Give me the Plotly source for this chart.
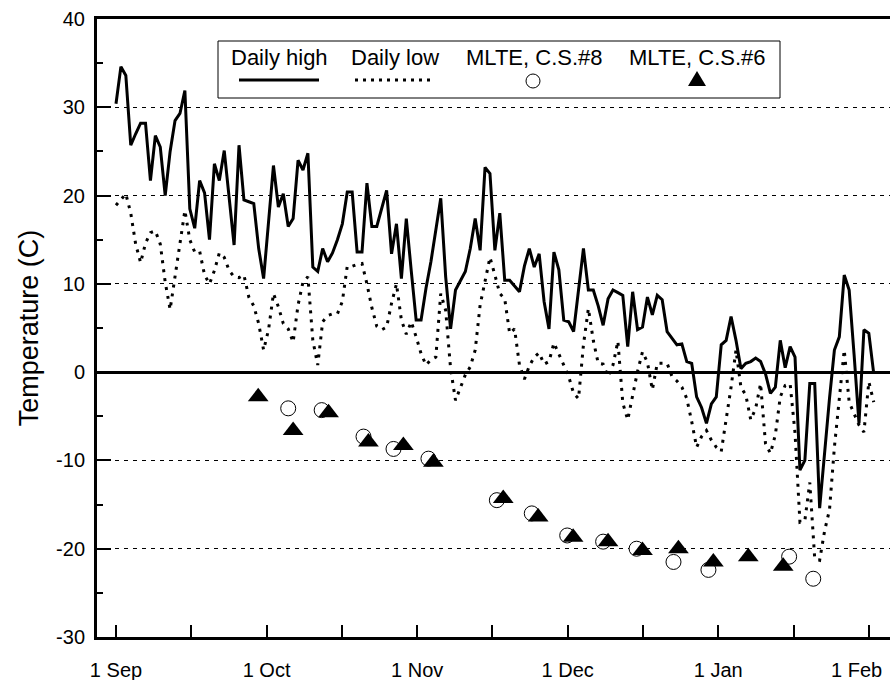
import numpy as np
import plotly.graph_objects as go

# ---------------- data ----------------
# daily values, one per day starting 1 Sep (day 0)
daily_high = [30.4, 34.6, 33.6, 25.7, 27.0, 28.2, 28.2, 21.7, 26.8, 25.5,
              20.0, 25.0, 28.5, 29.3, 31.9, 18.5, 16.3, 21.7, 20.3, 15.0,
              23.6, 21.7, 25.1, 20.0, 14.4, 25.7, 19.5, 19.3, 19.1, 14.0,
              10.6, 17.0, 23.4, 18.7, 20.2, 16.5, 17.4, 24.0, 22.9, 24.8,
              11.9, 11.4, 14.0, 12.5, 13.5, 15.0, 16.8, 20.4, 20.4, 13.6,
              13.6, 21.4, 16.5, 16.5, 18.5, 20.6, 13.4, 16.8, 10.6, 17.4,
              11.5, 5.9, 5.9, 9.5, 12.5, 16.0, 19.7, 10.8, 4.9, 9.3,
              10.3, 11.4, 14.0, 17.4, 13.8, 23.2, 22.5, 13.8, 18.0, 10.4,
              10.4, 9.8, 9.1, 12.0, 14.0, 11.9, 13.4, 8.0, 4.9, 13.6,
              11.6, 5.9, 5.7, 4.6, 9.0, 14.0, 9.3, 9.3, 7.5, 5.3,
              8.3, 9.3, 9.0, 8.7, 2.9, 9.1, 4.8, 5.1, 8.5, 6.5,
              8.7, 8.2, 4.6, 3.8, 3.1, 3.2, 1.2, 1.0, -2.8, -4.0,
              -5.8, -3.6, -2.8, 3.1, 3.6, 6.3, 3.6, 0.4, 1.0, 1.2,
              1.6, 1.2, -0.2, -2.4, -1.7, 3.6, 0.5, 2.9, 1.7, -11.1,
              -10.0, -1.3, -1.3, -15.4, -9.0, -3.0, 2.5, 4.0, 11.0, 9.3,
              2.0, -5.8, 4.8, 4.4, -0.2]

daily_low = [18.9, 19.5, 20.2, 18.0, 14.5, 12.4, 14.6, 15.8, 16.0, 14.5,
             10.2, 7.1, 11.0, 15.0, 18.3, 15.0, 13.6, 13.7, 11.0, 10.0,
             11.5, 13.5, 13.0, 11.5, 10.8, 10.7, 11.0, 8.5, 7.5, 5.5,
             2.5, 4.8, 8.9, 7.4, 5.5, 4.9, 3.4, 7.6, 10.2, 10.8,
             3.6, 0.8, 5.7, 6.4, 6.6, 6.6, 8.0, 12.0, 12.0, 12.2,
             12.3, 10.0, 7.3, 5.2, 4.8, 5.1, 7.8, 10.0, 5.9, 4.3,
             5.7, 4.0, 2.1, 0.8, 1.4, 1.7, 8.9, 7.0, 0.4, -3.2,
             -1.7, -0.3, 0.6, 2.5, 7.6, 10.2, 13.0, 11.0, 8.9, 8.3,
             4.4, 4.9, 0.8, -0.8, 0.7, 1.7, 2.2, 0.9, 1.2, 3.3,
             2.1, 0.8, -0.5, -2.4, -3.0, 3.1, 7.2, 3.6, 1.0, 0.9,
             -0.5, 0.8, 3.5, -3.5, -5.4, -2.7, 0.1, 2.3, 1.1, -2.0,
             1.0, 1.0, 1.0, -0.5, -1.0, -1.7, -3.0, -5.6, -8.5, -7.3,
             -6.6, -7.7, -8.5, -9.0, -5.6, -1.7, 2.5, -1.7, -2.6, -5.4,
             -4.1, -1.3, -8.1, -9.2, -7.1, -2.8, -1.5, -1.3, -6.9, -17.0,
             -16.8, -12.5, -21.1, -21.3, -18.0, -15.6, -8.5, -2.8, 2.5, -3.4,
             -4.7, -6.0, -6.8, -1.1, -3.4]

# MLTE, C.S.#8 (open circles): day since 1 Sep, temperature
cs8_day = [35.0, 41.8, 50.3, 56.4, 63.5, 77.4, 84.5, 91.7, 99.0, 105.8,
           113.3, 120.4, 136.8, 141.7]
cs8_temp = [-4.1, -4.3, -7.3, -8.7, -9.8, -14.5, -16.0, -18.5, -19.2, -20.0,
            -21.5, -22.4, -20.9, -23.4]

# MLTE, C.S.#6 (filled triangles)
cs6_day = [28.9, 36.0, 43.2, 51.3, 58.4, 64.5, 78.7, 85.8, 92.9, 100.0,
           107.0, 114.3, 121.4, 128.5, 135.6]
cs6_temp = [-2.8, -6.6, -4.6, -7.9, -8.3, -10.2, -14.3, -16.4, -18.7, -19.2,
            -20.2, -20.0, -21.5, -20.9, -22.0]

month_labels = ["1 Sep", "1 Oct", "1 Nov", "1 Dec", "1 Jan", "1 Feb"]
axis_span_days = 153          # 1 Sep -> 1 Feb
y_ticks = [-30, -20, -10, 0, 10, 20, 30, 40]
legend_names = ["Daily high", "Daily low", "MLTE, C.S.#8", "MLTE, C.S.#6"]

# ---------------- figure ----------------
FONT = "Liberation Sans, Arial, Helvetica, sans-serif"
W, H = 890, 680
L, R, T, B = 97, 0, 19, 43

days = np.arange(len(daily_high))
days_low = np.arange(len(daily_low))

fig = go.Figure()
fig.add_trace(go.Scatter(x=days, y=daily_high, mode="lines",
                         line=dict(color="black", width=3), name=legend_names[0],
                         showlegend=False))
fig.add_trace(go.Scatter(x=days_low, y=daily_low, mode="lines",
                         line=dict(color="black", width=3, dash="3px,6px"),
                         name=legend_names[1], showlegend=False))
fig.add_trace(go.Scatter(x=cs8_day, y=cs8_temp, mode="markers",
                         marker=dict(symbol="circle", size=15, color="white",
                                     line=dict(color="black", width=1)),
                         name=legend_names[2], showlegend=False))
fig.add_trace(go.Scatter(x=cs6_day, y=cs6_temp, mode="markers",
                         marker=dict(symbol="triangle-up", size=18, color="black",
                                     line=dict(color="black", width=0)),
                         name=legend_names[3], showlegend=False))

# half-month ticks, labelled at the first of each month (last one as annotation,
# shifted inwards as in the reference)
n_half = 2 * (len(month_labels) - 1)
tick_vals = [axis_span_days * i / n_half for i in range(n_half + 1)]
tick_text = [month_labels[i // 2] if (i % 2 == 0 and i < n_half) else ""
             for i in range(n_half + 1)]

fig.update_xaxes(range=[-3.86, 157.3], tickmode="array", tickvals=tick_vals,
                 ticktext=tick_text, ticks="inside", ticklen=12, tickwidth=1.5,
                 tickcolor="black", showgrid=False, zeroline=False,
                 showline=True, linecolor="black", linewidth=3, mirror=True,
                 tickfont=dict(family=FONT, size=20, color="black"),
                 ticklabelstandoff=13, automargin=False)
fig.update_yaxes(range=[-30, 40], tickmode="array", tickvals=y_ticks,
                 ticktext=[str(v) for v in y_ticks],
                 ticks="inside", ticklen=14,
                 tickwidth=1.5, tickcolor="black",
                 minor=dict(dtick=5, tick0=0, ticks="inside", ticklen=6,
                            tickcolor="black", tickwidth=1.5, showgrid=False),
                 showgrid=True, gridcolor="black", gridwidth=1, griddash="4px,5px",
                 zeroline=True, zerolinecolor="black", zerolinewidth=2.5,
                 showline=True, linecolor="black", linewidth=3,
                 tickfont=dict(family=FONT, size=20, color="black"),
                 ticklabelstandoff=5, automargin=False,
                 title=dict(text="Temperature (C)",
                            font=dict(family=FONT, size=27, color="black"),
                            standoff=10))

# ---- custom legend (text above sample, as in the reference) ----
pw, ph = W - L - R, H - T - B
def px(x):
    return (x - L) / pw
def py(y):
    return (H - B - y) / ph

shapes = [
    dict(type="rect", xref="paper", yref="paper", x0=px(218), x1=px(780),
         y0=py(98), y1=py(41), line=dict(color="black", width=1),
         fillcolor="white", layer="above"),
    dict(type="line", xref="paper", yref="paper", x0=px(239), x1=px(319),
         y0=py(80), y1=py(80), line=dict(color="black", width=3)),
    dict(type="line", xref="paper", yref="paper", x0=px(355), x1=px(432),
         y0=py(80), y1=py(80), line=dict(color="black", width=3, dash="3px,5px")),
    dict(type="circle", xref="paper", yref="paper", x0=px(526), x1=px(540),
         y0=py(88), y1=py(74), line=dict(color="black", width=1), fillcolor="white"),
    dict(type="path", xref="paper", yref="paper",
         path="M {:.5f} {:.5f} L {:.5f} {:.5f} L {:.5f} {:.5f} Z".format(
             px(688), py(86), px(706), py(86), px(697), py(71)),
         fillcolor="black", line=dict(color="black", width=0)),
]
annotations = []
for name, cx in zip(legend_names, [279, 395, 534, 697]):
    annotations.append(dict(xref="paper", yref="paper", x=px(cx), y=py(58),
                            text=name, showarrow=False, xanchor="center",
                            yanchor="middle",
                            font=dict(family=FONT, size=22, color="black")))
# last month label
annotations.append(dict(xref="paper", yref="paper", x=px(856), y=py(670),
                        text=month_labels[-1], showarrow=False, xanchor="center",
                        yanchor="middle",
                        font=dict(family=FONT, size=20, color="black")))

fig.update_layout(width=W, height=H, margin=dict(l=L, r=R, t=T, b=B),
                  plot_bgcolor="white", paper_bgcolor="white",
                  shapes=shapes, annotations=annotations, showlegend=False)

fig.write_html("out.html", config={"displayModeBar": False},
               post_script="document.body.style.margin='0';"
                           "document.body.style.padding='0';"
                           "document.documentElement.style.overflow='hidden';")
